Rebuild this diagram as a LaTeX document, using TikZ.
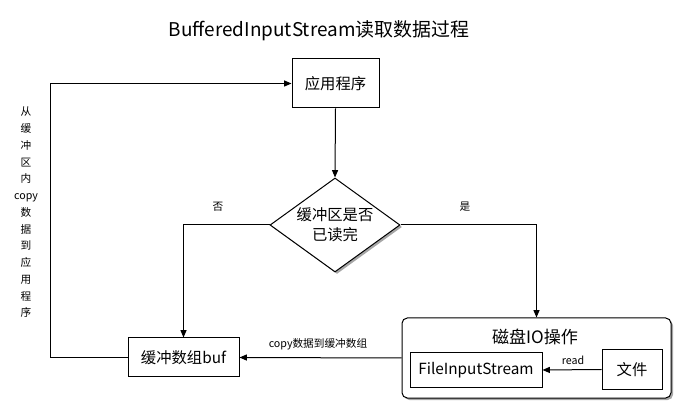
\documentclass[tikz,border=0pt]{standalone}
\usepackage{fontspec}
\setmainfont{Noto Sans CJK SC}
\usetikzlibrary{shapes.geometric,arrows.meta,shadows}

\begin{document}
\begin{tikzpicture}[x=0.75pt,y=-0.75pt,line width=0.75pt,
  box/.style={draw,fill=white,inner sep=0pt,font=\fontsize{11.5}{13}\selectfont},
  arr/.style={-{Triangle[length=5.5pt,width=4.5pt]}},
  lbl/.style={font=\fontsize{8}{10}\selectfont,inner sep=0pt},
  shade/.style={drop shadow={shadow xshift=1.5pt,shadow yshift=-1.5pt,fill=black,opacity=0.35}}]
  \useasboundingbox (0,0) rectangle (685,416);
  \node[font=\fontsize{14.2}{16}\selectfont] (title) at (319,31) {BufferedInputStream读取数据过程};
  % main boxes
  \node[box,minimum width=65.25pt,minimum height=36.75pt] (app) at (335.5,83.5) {应用程序};
  \node[diamond,draw,fill=white,shade,inner sep=0pt,minimum width=97.5pt,minimum height=70.5pt,
        label={[align=center,font=\fontsize{11.5}{15}\selectfont]center:缓冲区是否\\已读完}] (check) at (335,225) {};
  \node[box,minimum width=83.25pt,minimum height=29.25pt] (buf) at (183.5,357.5) {缓冲数组buf};
  \node[draw,fill=white,shade,rounded corners=4pt,minimum width=201.75pt,minimum height=60pt] (disk) at (536.5,358) {};
  \node[font=\fontsize{12.8}{14}\selectfont] (disktitle) at (535,337) {磁盘IO操作};
  \node[box,minimum width=99pt,minimum height=25.5pt] (fis) at (476,370) {FileInputStream};
  \node[box,minimum width=45pt,minimum height=29.25pt] (file) at (632,369.5) {文件};
  % connectors
  \coordinate (back) at (50,0);
  \draw[arr] (app.south) -- (check.north);
  \draw[arr] (check.west) -| (buf.north);
  \draw[arr] (check.east) -| (disk.north);
  \draw[arr] (disk.west) -- (buf.east);
  \draw[arr] (file.west) -- (fis.east);
  \draw[arr] (buf.west) -| (back |- app.west) -- (app.west);
  % labels
  \node[lbl] (no) at (218,207) {否};
  \node[lbl] (yes) at (465,207) {是};
  \node[lbl] (copylbl) at (318,344) {copy数据到缓冲数组};
  \node[lbl] (readlbl) at (573,360) {read};
  \node[lbl,align=center,font=\fontsize{8}{12.56}\selectfont] (backlbl) at (26,212.5)
    {从\\缓\\冲\\区\\内\\copy\\数\\据\\到\\应\\用\\程\\序};
\end{tikzpicture}
\end{document}
